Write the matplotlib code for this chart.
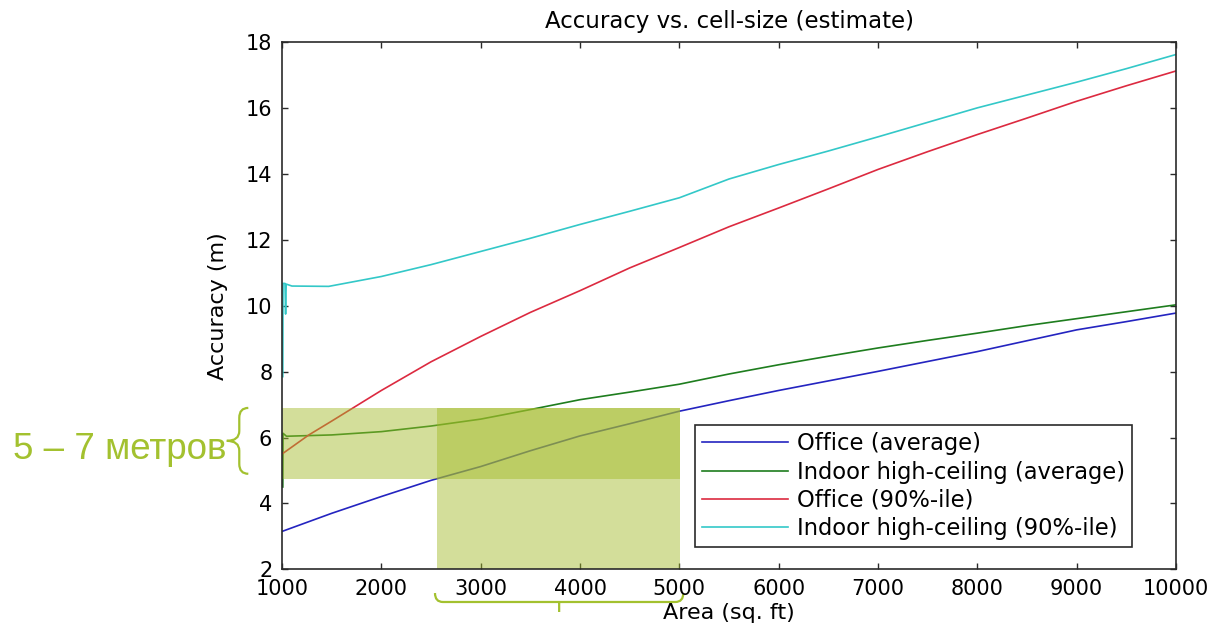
import matplotlib
matplotlib.use("Agg")
import matplotlib.pyplot as plt
import matplotlib.transforms as mtransforms
from matplotlib.patches import Rectangle, PathPatch
from matplotlib.path import Path

# values
area = [1500, 2000, 2500, 3000, 3500, 4000, 4500, 5000, 5500, 6000,
        6500, 7000, 7500, 8000, 8500, 9000, 9500, 10000]

office_avg_area = [1000] + area
office_avg = [3.15, 3.7, 4.21, 4.7, 5.12, 5.6, 6.05, 6.42, 6.8, 7.12, 7.43,
              7.72, 8.01, 8.31, 8.61, 8.94, 9.27, 9.52, 9.78]

high_avg_area = [1008, 1010, 1045] + area
high_avg = [4.5, 6.13, 6.04, 6.08, 6.18, 6.35, 6.56, 6.85, 7.15, 7.38, 7.62,
            7.93, 8.21, 8.47, 8.72, 8.95, 9.17, 9.4, 9.61, 9.82, 10.03]

office_90_area = [1000, 1270] + area
office_90 = [5.5, 6.08, 6.5, 7.43, 8.3, 9.07, 9.8, 10.46, 11.15, 11.77, 12.4,
             12.97, 13.55, 14.14, 14.68, 15.2, 15.7, 16.21, 16.68, 17.13]

high_90_area = [1008, 1010, 1030, 1036, 1042, 1100, 1470] + area[1:]
high_90 = [7.85, 10.68, 10.68, 9.75, 10.66, 10.6, 10.59, 10.89, 11.25, 11.65,
           12.05, 12.47, 12.87, 13.28, 13.85, 14.29, 14.7, 15.13, 15.57,
           16.01, 16.4, 16.79, 17.2, 17.63]

labels = ["Office (average)", "Indoor high-ceiling (average)",
          "Office (90%-ile)", "Indoor high-ceiling (90%-ile)"]

# highlighted region
band_y = (4.74, 6.89)
band_x_left = (1000, 5010)
band_x_low = (2558, 5010)
brace_y = (4.9, 6.9)
brace_x = (2540, 5040)

fig = plt.figure(figsize=(12.14, 6.25), dpi=100)
ax = fig.add_axes([0.2323, 0.0891, 0.7364, 0.8432])

ax.plot(office_avg_area, office_avg, color="#2424c0", lw=1.2, label=labels[0])
ax.plot(high_avg_area, high_avg, color="#1e7d1e", lw=1.2, label=labels[1])
ax.plot(office_90_area, office_90, color="#dc2a40", lw=1.2, label=labels[2])
ax.plot(high_90_area, high_90, color="#33c8c8", lw=1.2, label=labels[3])

ax.set_xlim(1000, 10000)
ax.set_ylim(2, 18)
ax.set_xticks(range(1000, 10001, 1000))
ax.set_yticks(range(2, 19, 2))

green = "#a2ba28"
ax.add_patch(Rectangle((band_x_left[0], band_y[0]), band_x_left[1] - band_x_left[0],
                       band_y[1] - band_y[0], color=green, alpha=0.465, lw=0, zorder=2.2))
ax.add_patch(Rectangle((band_x_low[0], 2), band_x_low[1] - band_x_low[0],
                       band_y[1] - 2, color=green, alpha=0.465, lw=0, zorder=2.2))

for s in ax.spines.values():
    s.set_color("#2a2a2a")
    s.set_linewidth(1.2)
ax.tick_params(direction="in", length=4.5, width=1.0, top=True, right=True,
               labelsize=15, pad=7, colors="#2a2a2a")
for t in ax.get_xticklabels() + ax.get_yticklabels():
    t.set_color("black")

ax.set_title("Accuracy vs. cell-size (estimate)", fontsize=16.5, pad=10)
ax.set_xlabel("Area (sq. ft)", fontsize=16, labelpad=3)
ax.set_ylabel("Accuracy (m)", fontsize=16, labelpad=13)

leg = ax.legend(loc="lower right", bbox_to_anchor=(0.951, 0.042), fontsize=16.3,
                fancybox=False, edgecolor="#2a2a2a", framealpha=1,
                borderpad=0.3, handlelength=3.8, handletextpad=0.4,
                labelspacing=0.24, borderaxespad=0)
leg.get_frame().set_linewidth(1.2)

# braces outside the axes
bc = "#a3c12f"
tr_y = mtransforms.blended_transform_factory(ax.transAxes, ax.transData)
a, b = brace_y
mid = (a + b) / 2
r = 0.3
base, spine, tip = -0.0377, -0.0478, -0.0618
verts = [(base, b), (spine, b), (spine, b - r), (spine, mid + r),
         (spine, mid), (tip, mid), (spine, mid), (spine, mid - r),
         (spine, a + r), (spine, a), (base, a)]
codes = [Path.MOVETO, Path.CURVE3, Path.CURVE3, Path.LINETO,
         Path.CURVE3, Path.CURVE3, Path.CURVE3, Path.CURVE3,
         Path.LINETO, Path.CURVE3, Path.CURVE3]
ax.add_patch(PathPatch(Path(verts, codes), fc="none", ec=bc, lw=1.6,
                       transform=tr_y, clip_on=False))

tr_x = mtransforms.blended_transform_factory(ax.transData, ax.transAxes)
a, b = brace_x
mid = (a + b) / 2
rx = 80
base, spine, tip = -0.045, -0.062, -0.081
verts = [(a, base), (a, spine), (a + rx, spine), (b - rx, spine),
         (b, spine), (b, base), (mid, spine), (mid, tip)]
codes = [Path.MOVETO, Path.CURVE3, Path.CURVE3, Path.LINETO,
         Path.CURVE3, Path.CURVE3, Path.MOVETO, Path.LINETO]
ax.add_patch(PathPatch(Path(verts, codes), fc="none", ec=bc, lw=1.6,
                       transform=tr_x, clip_on=False))

ax.text(-0.0618, sum(brace_y) / 2 - 0.25, "5 – 7 метров", transform=tr_y,
        ha="right", va="center", fontsize=26.5, color=bc,
        family=["Liberation Sans", "DejaVu Sans"])

fig.savefig("out.png", dpi=100)
